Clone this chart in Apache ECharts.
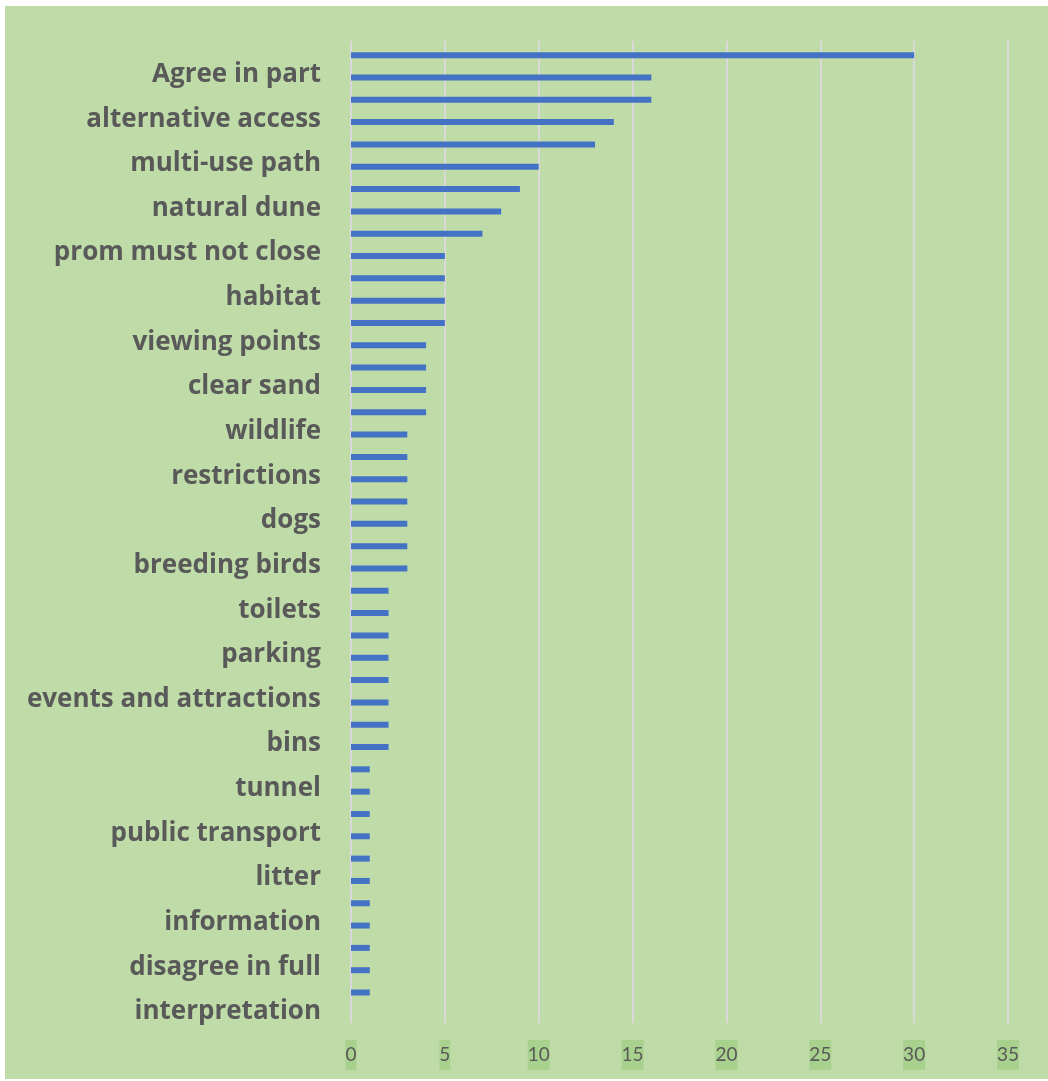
<!DOCTYPE html>
<html>
<head>
<meta charset="utf-8">
<script src="https://cdn.jsdelivr.net/npm/echarts@6/dist/echarts.min.js"></script>
<style>
  html, body { margin: 0; padding: 0; background: #ffffff; }
  #chart { position: absolute; left: 5px; top: 6px; width: 1043px; height: 1073px; background: #bfdca8; }
</style>
</head>
<body>
<div id="chart"></div>
<script>
// categories bottom -> top (only every other label is readable in the picture)
const categories = [
  'interpretation', '', 'disagree in full', '', 'information', '', 'litter', '',
  'public transport', '', 'tunnel', '', 'bins', '', 'events and attractions', '',
  'parking', '', 'toilets', '', 'breeding birds', '', 'dogs', '',
  'restrictions', '', 'wildlife', '', 'clear sand', '', 'viewing points', '',
  'habitat', '', 'prom must not close', '', 'natural dune', '', 'multi-use path', '',
  'alternative access', '', 'Agree in part', ''
]
const counts = [
  0, 1, 1, 1, 1, 1, 1, 1,
  1, 1, 1, 1, 2, 2, 2, 2,
  2, 2, 2, 2, 3, 3, 3, 3,
  3, 3, 3, 4, 4, 4, 4, 5,
  5, 5, 5, 7, 8, 9, 10, 13,
  14, 16, 16, 30
]
const xTicks = [0, 35, 5]

const chart = echarts.init(document.getElementById('chart'))
chart.setOption({
  animation: false,
  grid: {
    left: 346,
    right: 40,
    top: 35,
    bottom: 56
  },
  xAxis: {
    type: 'value',
    min: xTicks[0],
    max: xTicks[1],
    interval: xTicks[2],
    axisLine: { show: false },
    axisTick: { show: false },
    splitLine: { lineStyle: { color: '#d9d9d9', width: 2 } },
    axisLabel: {
      margin: 17,
      fontFamily: 'Lato',
      fontSize: 19,
      color: '#595959',
      lineHeight: 30,
      backgroundColor: '#a9d18e'
    }
  },
  yAxis: {
    type: 'category',
    data: categories,
    axisLine: { show: false },
    axisTick: { show: false },
    axisLabel: {
      interval: 0,
      margin: 30,
      padding: [4, 0, 0, 0],
      fontFamily: 'Open Sans',
      fontWeight: 'bold',
      fontSize: 26,
      color: '#595959'
    }
  },
  series: [{
    // empty series, only shifts the real bars a little (clustered layout)
    type: 'bar',
    data: [],
    barWidth: 6,
    barGap: 0
  }, {
    type: 'bar',
    data: counts,
    barWidth: 6,
    barGap: 0,
    itemStyle: { color: '#4472c4' }
  }]
})
</script>
</body>
</html>
